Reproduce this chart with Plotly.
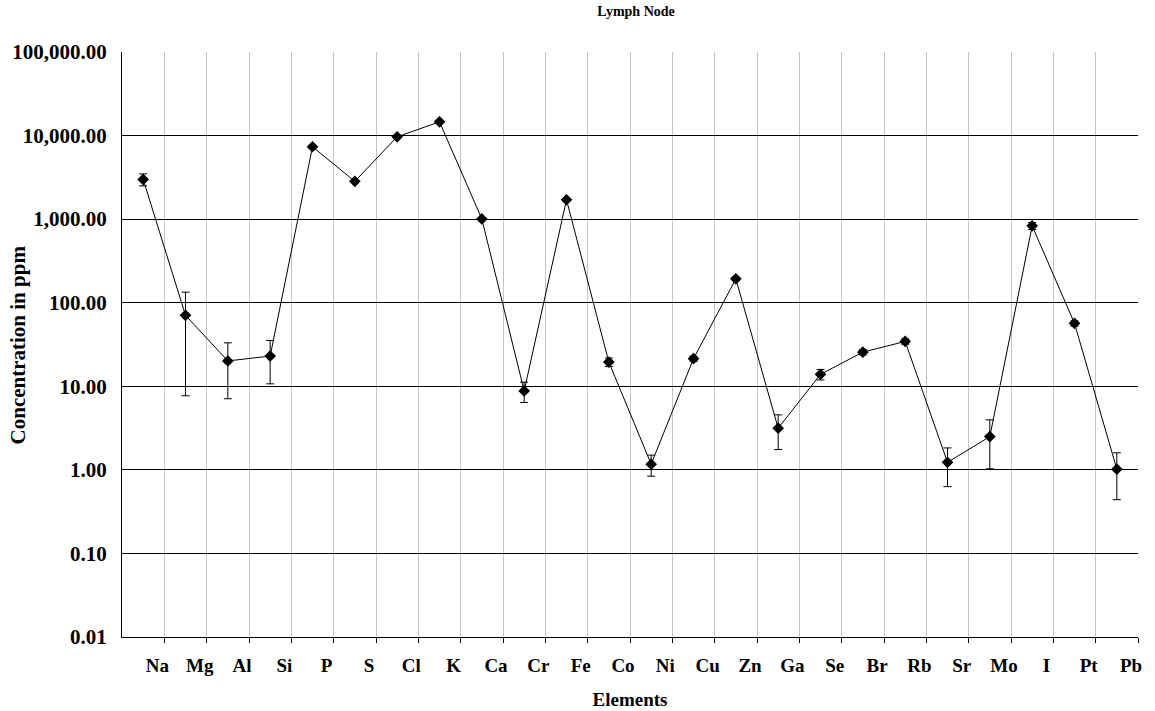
import plotly.graph_objects as go

elements = ["Na", "Mg", "Al", "Si", "P", "S", "Cl", "K", "Ca", "Cr", "Fe", "Co",
            "Ni", "Cu", "Zn", "Ga", "Se", "Br", "Rb", "Sr", "Mo", "I", "Pt", "Pb"]
concentration = [2990, 70.7, 20.1, 23.0, 7345, 2833, 9670, 14600, 1005, 8.8, 1706, 19.5,
                 1.17, 21.4, 193, 3.15, 13.9, 25.6, 34.4, 1.23, 2.50, 831, 56.6, 1.02]
error = [490, 63, 13, 12.3, 200, 100, 300, 400, 30, 2.4, 60, 2.3,
         0.33, 1.5, 8, 1.4, 2.0, 1.8, 2.5, 0.6, 1.47, 80, 4, 0.58]
y_ticks = [0.01, 0.1, 1, 10, 100, 1000, 10000, 100000]

FONT = "Liberation Serif, Times New Roman, serif"

x_idx = list(range(len(elements)))
boundaries = [i + 0.5 for i in x_idx]

fig = go.Figure()
fig.add_trace(go.Scatter(
    x=x_idx, y=concentration, mode="lines+markers",
    line=dict(color="black", width=1),
    marker=dict(symbol="diamond", size=9, color="black"),
    error_y=dict(type="data", array=error, visible=True, color="black",
                 thickness=1, width=4),
    showlegend=False,
))

fig.update_layout(
    width=1155, height=711,
    margin=dict(l=122, r=17, t=52, b=74, autoexpand=False),
    paper_bgcolor="white", plot_bgcolor="white",
    font=dict(family=FONT, color="black", size=16),
    title=dict(text="<b>Lymph Node</b>", x=0.5507, xanchor="center",
               y=0.991, yanchor="top", font=dict(size=14, family=FONT)),
    annotations=[dict(
        text="<b>Concentration in ppm</b>", textangle=-90,
        xref="paper", yref="paper", x=-0.1024, y=0.5,
        xanchor="center", yanchor="middle", showarrow=False,
        font=dict(size=21, family=FONT, color="black"),
    )],
)

fig.update_xaxes(
    range=[-0.5, len(elements) - 0.5],
    tickmode="array", tickvals=boundaries, ticktext=[f"<b>{e}</b>" for e in elements],
    ticks="outside", ticklen=5, tickcolor="black", tickwidth=1,
    showgrid=True, gridcolor="#c4c4c4", gridwidth=1,
    showline=True, linecolor="black", linewidth=1,
    zeroline=False, ticklabelshift=-7, ticklabelstandoff=6,
    tickfont=dict(size=19, family=FONT), automargin=False,
    title=dict(text="<b>Elements</b>", font=dict(size=19, family=FONT), standoff=17),
)

fig.update_yaxes(
    type="log", range=[-2, 5],
    tickmode="array", tickvals=y_ticks,
    ticktext=[f"<b>{v:,.2f}</b>" for v in y_ticks],
    ticks="inside", ticklen=5, tickcolor="black", tickwidth=1,
    showgrid=True, gridcolor="black", gridwidth=1,
    showline=True, linecolor="black", linewidth=1,
    zeroline=False, ticklabelstandoff=10, automargin=False,
    tickfont=dict(size=21, family=FONT),
)

fig.write_html("out.html")
